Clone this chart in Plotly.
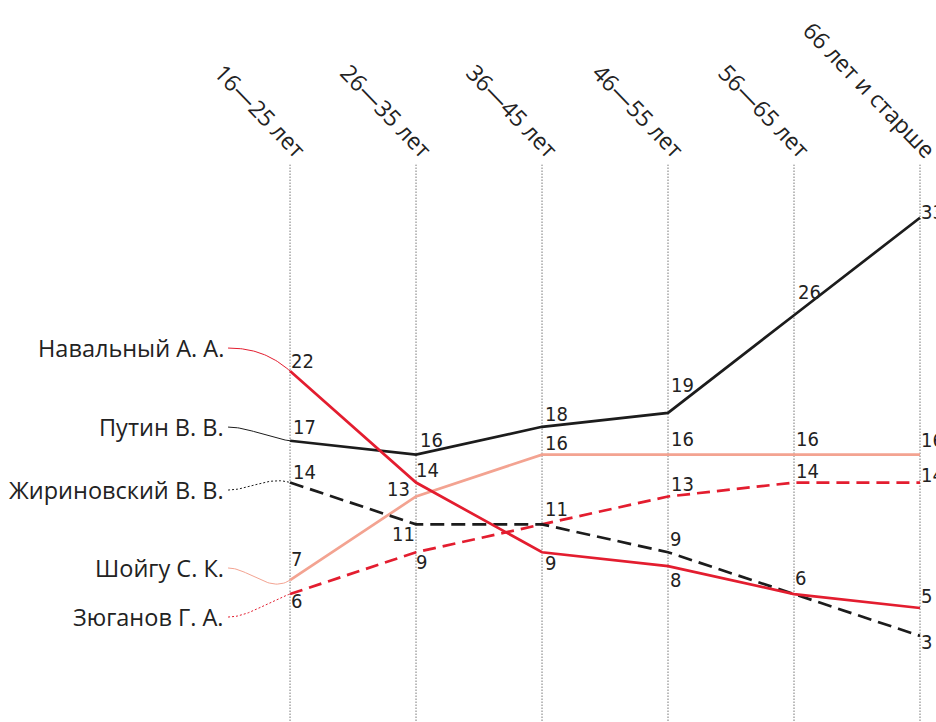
import numpy as np
import plotly.graph_objects as go

# ---------------- data ----------------
age_groups = ["16—25 лет", "26—35 лет", "36—45 лет", "46—55 лет", "56—65 лет", "66 лет и старше"]
candidates = ["Навальный А. А.", "Путин В. В.", "Жириновский В. В.", "Шойгу С. К.", "Зюганов Г. А."]
navalny = [22, 14, 9, 8, 6, 5]
putin = [17, 16, 18, 19, 26, 33]
zhirinovsky = [14, 11, 11, 9, 6, 3]
shoigu = [7, 13, 16, 16, 16, 16]
zyuganov = [6, 9, 11, 13, 14, 14]

series = [navalny, putin, zhirinovsky, shoigu, zyuganov]

# ---------------- styles ----------------
RED = "#e31d2f"
BLACK = "#1c1c1c"
SALMON = "#f3a391"
TEXT = "#222222"
colors = [RED, BLACK, BLACK, SALMON, RED]
dashes = ["solid", "solid", "14px,7px", "solid", "13px,7px"]
conn_dash = ["solid", "solid", "2px,2px", "solid", "2px,2px"]
draw_order = [3, 4, 2, 1, 0]
# vertical position of the left-hand name labels (data units)
name_label_y = [23.65, 17.98, 13.46, 7.87, 4.35]
conn_x0 = -0.492

# value label placement: (series, index, dx px, dy px (down +), xanchor)
label_pos = [
    (0, 0, 3, -10, "left"), (0, 1, 2, -13, "left"), (0, 2, 5, 11, "left"),
    (0, 3, 4, 13.5, "left"), (0, 4, 3, -16.5, "left"), (0, 5, 3, -11.5, "left"),
    (1, 0, 5, -13.5, "left"), (1, 1, 6, -15, "left"), (1, 2, 5, -12.3, "left"),
    (1, 3, 5, -27.4, "left"), (1, 4, 6, -23.5, "left"), (1, 5, 3, -5.5, "left"),
    (2, 0, 5, -11, "left"), (2, 1, -3, 10, "right"), (2, 3, 4, -13.7, "left"),
    (2, 5, 3, 6.6, "left"),
    (3, 0, 3, -21.6, "left"), (3, 1, -8, -7, "right"), (3, 2, 5, -11.2, "left"),
    (3, 3, 5, -15.2, "left"), (3, 4, 4, -15.2, "left"), (3, 5, 3, -14.2, "left"),
    (4, 0, 3, 7.4, "left"), (4, 1, 2, 9.3, "left"), (4, 2, 5, -15, "left"),
    (4, 3, 5, -12, "left"), (4, 4, 4, -12, "left"), (4, 5, 3, -7.5, "left"),
]
PAD_FIX = 3  # plotly's inner text padding

LABEL_FONT = "Open Sans, Lato, sans-serif"
NUM_FONT = "Liberation Sans Narrow, DejaVu Sans Condensed, Roboto Condensed, sans-serif"

x_idx = list(range(len(age_groups)))

fig = go.Figure()

# vertical dotted guides
for i in x_idx:
    fig.add_shape(type="line", x0=i, x1=i, y0=-3.3, y1=36.8, xref="x", yref="y",
                  line=dict(color="#333333", width=1, dash="1px,2px"), layer="below")

# connectors from names to first point (cubic Hermite, end tangent = first segment slope)
t = np.linspace(0, 1, 40)
h00 = 2 * t**3 - 3 * t**2 + 1
h01 = -2 * t**3 + 3 * t**2
h11 = t**3 - t**2
L = -conn_x0
for k in draw_order:
    s = series[k]
    p0 = name_label_y[k]
    p1 = s[0]
    m1 = s[1] - s[0]
    yy = h00 * p0 + h01 * p1 + h11 * L * m1
    xx = conn_x0 + t * L
    fig.add_trace(go.Scatter(x=xx, y=yy, mode="lines", hoverinfo="skip",
                             line=dict(color=colors[k], width=1, dash=conn_dash[k]),
                             showlegend=False))

# main lines
for k in draw_order:
    fig.add_trace(go.Scatter(x=x_idx, y=series[k], mode="lines", name=candidates[k],
                             line=dict(color=colors[k], width=2.7, dash=dashes[k]),
                             showlegend=False))

annotations = []
# names
for k, name in enumerate(candidates):
    annotations.append(dict(x=conn_x0, y=name_label_y[k], xref="x", yref="y", text=name,
                            showarrow=False, xanchor="right", yanchor="middle", xshift=-3,
                            borderpad=0,
                            font=dict(family=LABEL_FONT, size=23.5, color=TEXT)))
# age group headers
for i, g in enumerate(age_groups):
    annotations.append(dict(x=i, y=36.7, xref="x", yref="y", text=g, showarrow=False,
                            textangle=46, xanchor="right", yanchor="bottom", xshift=25,
                            borderpad=0,
                            font=dict(family=LABEL_FONT, size=23, color=TEXT)))
# value labels
for (k, i, dx, dy, xa) in label_pos:
    shift = dx - PAD_FIX if xa == "left" else dx + PAD_FIX
    annotations.append(dict(x=i, y=series[k][i], xref="x", yref="y", text=str(series[k][i]),
                            showarrow=False, xanchor=xa, yanchor="middle",
                            xshift=shift, yshift=-dy, borderpad=0,
                            font=dict(family=NUM_FONT, size=20, color=TEXT)))

fig.update_layout(
    width=936, height=722,
    margin=dict(l=0, r=0, t=0, b=0),
    paper_bgcolor="white", plot_bgcolor="white",
    xaxis=dict(range=[-2.302, 5.127], visible=False, fixedrange=True),
    yaxis=dict(range=[-3.18, 48.62], visible=False, fixedrange=True),
    annotations=annotations,
    showlegend=False,
)

# remove the default 8px page margin so the figure fills the window exactly
fig.write_html("out.html",
               config={"displayModeBar": False},
               post_script="document.body.style.margin='0';document.body.style.overflow='hidden';")
